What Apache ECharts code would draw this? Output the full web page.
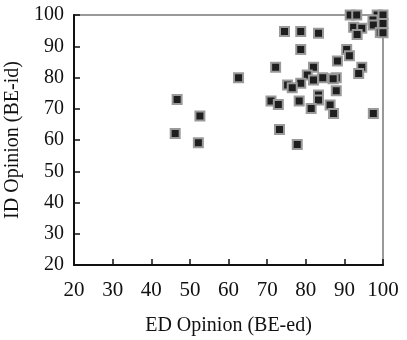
<!DOCTYPE html>
<html>
<head>
<meta charset="utf-8">
<script src="https://cdn.jsdelivr.net/npm/echarts@6/dist/echarts.min.js"></script>
<style>
  html, body { margin: 0; padding: 0; background: #fff; }
  #chart { width: 407px; height: 340px; }
</style>
</head>
<body>
<div id="chart"></div>
<script>
// ED opinion (x) and ID opinion (y) for each point
const edOpinion = [
  46.7, 46.2, 52.6, 52.2, 62.6, 71.0, 72.9, 73.2, 72.2, 74.5,
  78.7, 83.3, 78.7, 82.0, 80.4, 78.7, 82.0, 84.4, 87.9, 87.1,
  75.3, 76.5, 87.9, 83.3, 83.3, 78.3, 81.4, 86.3, 87.2, 97.5,
  77.8, 90.6, 91.3, 88.2, 94.5, 93.7, 91.5, 93.2, 98.5, 100,
  92.4, 94.5, 93.3, 97.4, 97.5, 100, 99.3, 100
];
const idOpinion = [
  73.0, 62.1, 67.7, 59.1, 79.9, 72.5, 71.4, 63.4, 83.3, 94.7,
  94.7, 94.2, 89.0, 83.3, 80.8, 78.2, 79.2, 79.9, 79.9, 79.6,
  77.6, 76.7, 75.8, 74.4, 72.8, 72.5, 70.1, 71.2, 68.5, 68.5,
  58.6, 89.0, 87.0, 85.3, 83.3, 81.3, 100, 100, 100, 100,
  96.1, 95.8, 93.8, 98.4, 96.8, 97.3, 94.4, 94.3
];
const tickValues = [20, 30, 40, 50, 60, 70, 80, 90, 100];

const points = edOpinion.map((x, i) => [x, idOpinion[i]]);
const font = '"Liberation Serif", "DejaVu Serif", serif';

let myChart = echarts.init(document.getElementById('chart'));
myChart.setOption({
  animation: false,
  grid: {
    left: 74,
    right: 24,
    top: 15,
    bottom: 75,
    outerBoundsMode: 'none',
    containLabel: false,
    show: true,
    borderColor: '#999',
    borderWidth: 2
  },
  xAxis: {
    type: 'value',
    min: tickValues[0],
    max: tickValues[tickValues.length - 1],
    interval: 10,
    name: 'ED Opinion (BE-ed)',
    nameLocation: 'middle',
    nameGap: 51,
    nameTextStyle: { fontFamily: font, fontSize: 20, color: '#111' },
    axisLine: { lineStyle: { color: '#111', width: 2 } },
    axisTick: { inside: true, length: 6, lineStyle: { color: '#111', width: 1.5 } },
    axisLabel: { fontFamily: font, fontSize: 21, color: '#111', margin: 15 },
    splitLine: { show: false }
  },
  yAxis: {
    type: 'value',
    min: tickValues[0],
    max: tickValues[tickValues.length - 1],
    interval: 10,
    name: 'ID Opinion (BE-id)',
    nameLocation: 'middle',
    nameGap: 49,
    nameTextStyle: { fontFamily: font, fontSize: 20, color: '#111' },
    axisLine: { lineStyle: { color: '#111', width: 2 } },
    axisTick: { inside: true, length: 6, lineStyle: { color: '#111', width: 1.5 } },
    axisLabel: { fontFamily: font, fontSize: 20, color: '#111', margin: 10 },
    splitLine: { show: false }
  },
  series: [{
    type: 'scatter',
    data: points,
    symbol: 'rect',
    symbolSize: 9,
    itemStyle: {
      color: '#1e1e1e',
      borderColor: '#9a9a9a',
      borderWidth: 2,
      opacity: 1
    }
  }]
});
</script>
</body>
</html>
